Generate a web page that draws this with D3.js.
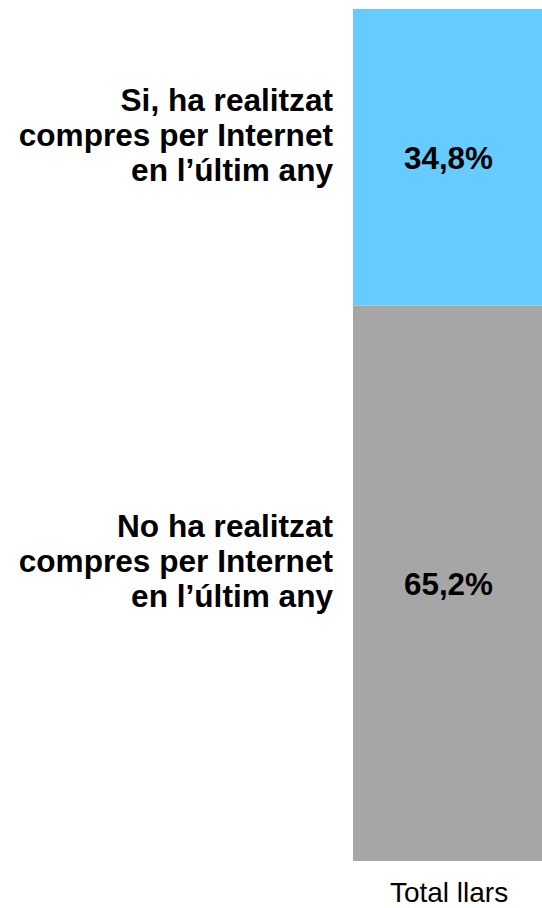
<!DOCTYPE html>
<html>
<head>
<meta charset="utf-8">
<script src="https://cdn.jsdelivr.net/npm/d3@7"></script>
<style>
  body { margin: 0; background: #fff; }
  text { font-family: "Liberation Sans", Arial, sans-serif; }
</style>
</head>
<body>
<div id="chart"></div>
<script>
// data
var categories = ["Total llars"];
var segments = [
  ["Si, ha realitzat", "compres per Internet", "en l\u2019\u00faltim any"],
  ["No ha realitzat", "compres per Internet", "en l\u2019\u00faltim any"]
];
var values = [34.8, 65.2];
var valueLabels = ["34,8%", "65,2%"];
var colors = ["#66ccff", "#a6a6a6"];

var width = 542, height = 908;

var svg = d3.select("#chart")
    .append("svg")
        .attr("width", width)
        .attr("height", height);

var x = d3.scaleBand()
    .domain(categories)
    .range([353, 542])
    .padding(0);

var y = d3.scaleLinear()
    .domain([0, 100])
    .range([9, 861]);

// stack the values
var stacked = [];
var acc = 0;
for (var i = 0; i < values.length; i++) {
    stacked.push({ y0: acc, y1: acc + values[i], i: i });
    acc += values[i];
}

svg.selectAll("rect")
    .data(stacked)
    .enter()
    .append("rect")
    .attr("x", x(categories[0]))
    .attr("y", function(d) { return y(d.y0); })
    .attr("width", x.bandwidth())
    .attr("height", function(d) { return y(d.y1) - y(d.y0); })
    .attr("fill", function(d) { return colors[d.i]; });

// value labels in the bar
svg.selectAll(".val")
    .data(stacked)
    .enter()
    .append("text")
    .attr("class", "val")
    .attr("x", x(categories[0]) + x.bandwidth() / 2 + 1)
    .attr("y", function(d) { return (y(d.y0) + y(d.y1)) / 2 + 12; })
    .attr("text-anchor", "middle")
    .style("font-size", "31.4px")
    .style("font-weight", "bold")
    .text(function(d) { return valueLabels[d.i]; });

// category labels on the left
var lab = svg.selectAll(".lab")
    .data(stacked)
    .enter()
    .append("text")
    .attr("class", "lab")
    .attr("text-anchor", "end")
    .style("font-size", "31.6px")
    .style("font-weight", "bold");

lab.each(function(d) {
    var mid = (y(d.y0) + y(d.y1)) / 2;
    d3.select(this).selectAll("tspan")
        .data(segments[d.i])
        .enter()
        .append("tspan")
        .attr("x", 333)
        .attr("y", function(t, k) { return mid - 46 + k * 35; })
        .text(function(t) { return t; });
});

// category axis
var xAxis = svg.append("g")
    .attr("transform", "translate(0,861)")
    .call(d3.axisBottom(x).tickSize(0).tickPadding(21));

xAxis.select(".domain").remove();
xAxis.selectAll("text")
    .attr("dx", "1.5")
    .style("font-family", "'Liberation Sans', Arial, sans-serif")
    .style("font-size", "28px")
    .attr("fill", "#000");
</script>
</body>
</html>
